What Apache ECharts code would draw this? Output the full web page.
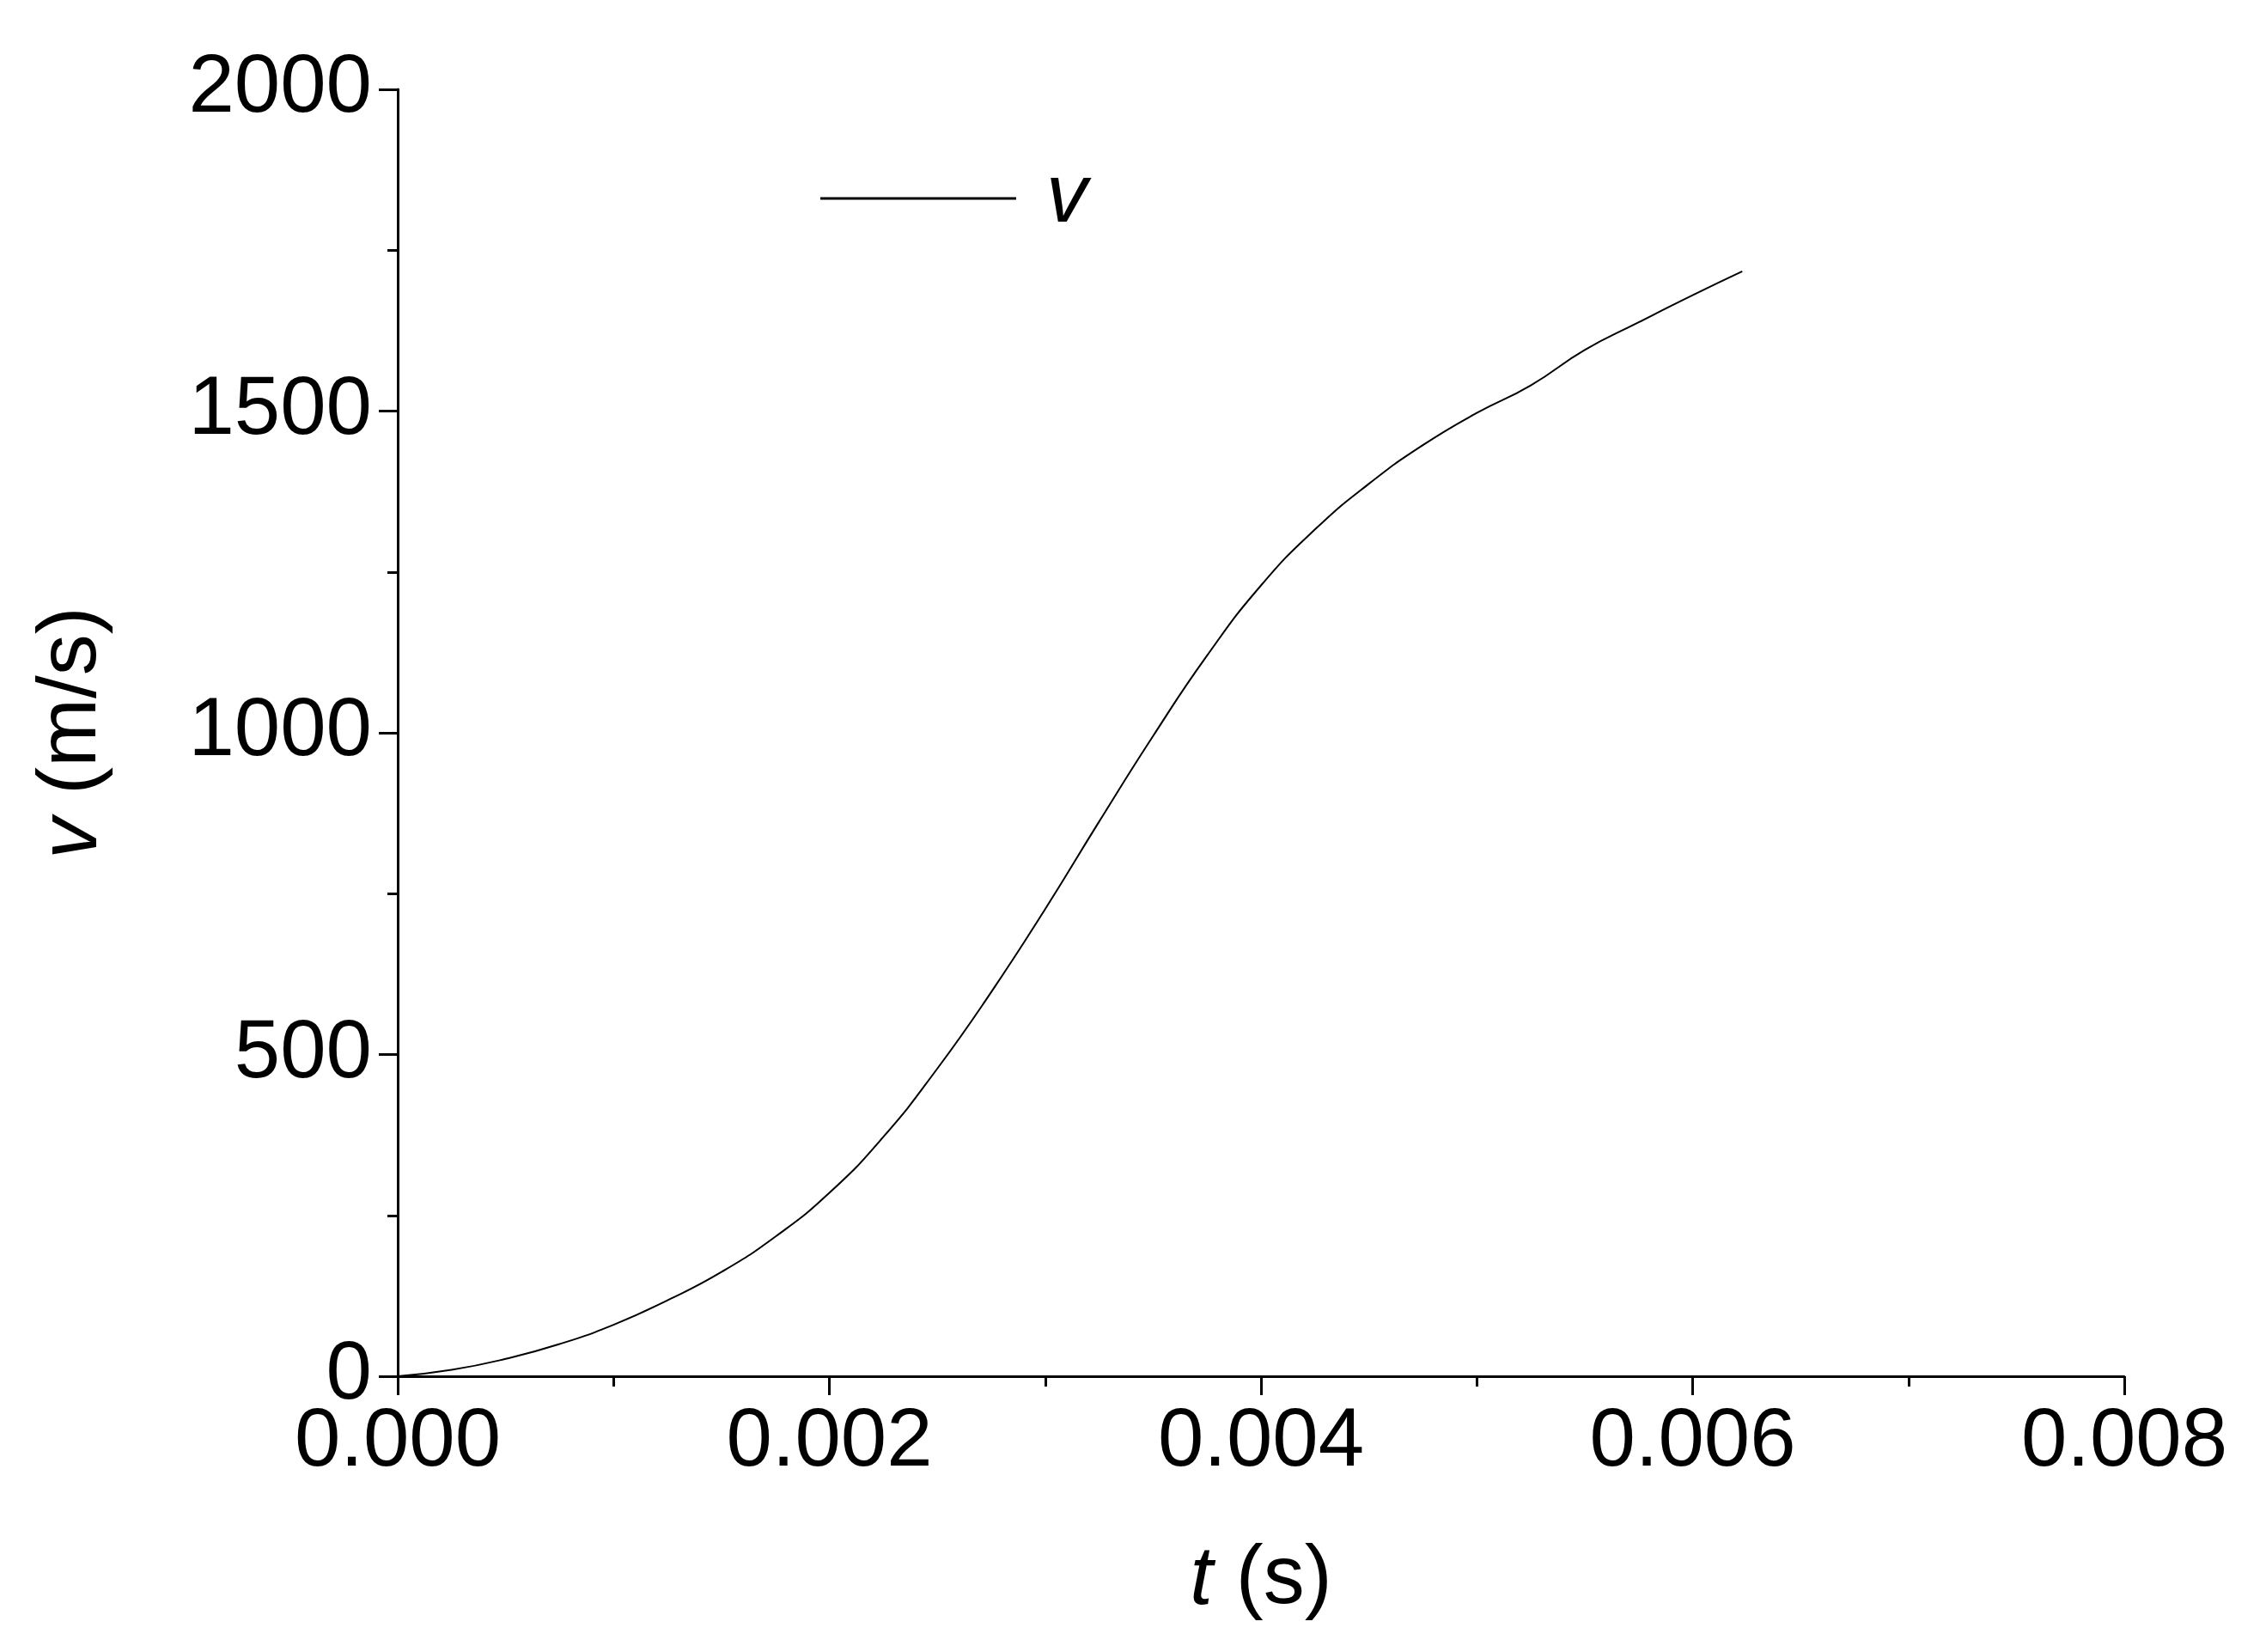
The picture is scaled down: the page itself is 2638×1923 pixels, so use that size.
<!DOCTYPE html>
<html><head><meta charset="utf-8">
<script src="https://cdn.jsdelivr.net/npm/echarts@6/dist/echarts.min.js"></script>
<style>html,body{margin:0;padding:0;background:#fff}#c{width:2638px;height:1923px}</style>
</head><body><div id="c"></div>
<script>
const tValues = [0, 0.00025, 0.0005, 0.00075, 0.001, 0.00125, 0.0015, 0.00175, 0.002, 0.00225, 0.0025, 0.00275, 0.003, 0.00325, 0.0035, 0.00375, 0.004, 0.00425, 0.0045, 0.00475, 0.005, 0.00525, 0.0055, 0.00575, 0.006, 0.00623];
const vValues = [0, 10, 27, 50, 80, 118, 162, 217, 285, 372, 478, 597, 726, 862, 995, 1120, 1229, 1316, 1387, 1447, 1497, 1540, 1595, 1638, 1680, 1717];
const xTicks = ['0.000','0.002','0.004','0.006','0.008'];
const yTicks = [0, 500, 1000, 1500, 2000];
const seriesName = 'v';

const font = 'Liberation Sans, Arial, sans-serif';
const fs = 96;
const chart = echarts.init(document.getElementById('c'));
chart.setOption({
  backgroundColor: '#fff',
  animation: false,
  grid: {left: 463, right: 165, top: 104, bottom: 321},
  legend: {
    data: [seriesName], left: 950, top: 178, itemWidth: 228, itemHeight: 3, itemGap: 20,
    icon: 'rect',
    textStyle: {fontSize: fs, fontStyle: 'italic', fontFamily: font, color: '#000', padding: [0,0,0,30]}
  },
  xAxis: {
    type: 'value', min: 0, max: 0.008, interval: 0.002,
    minorTick: {show: true, splitNumber: 2, length: 12, lineStyle: {color: '#000', width: 3}},
    axisLine: {lineStyle: {color: '#000', width: 3}},
    axisTick: {inside: false, length: 22, lineStyle: {color: '#000', width: 3}},
    splitLine: {show: false},
    axisLabel: {fontSize: fs, fontFamily: font, color: '#000', margin: 30,
      formatter: v => xTicks[Math.round(v / 0.002)]},
    name: '{i|t} (s)', nameLocation: 'middle', nameGap: 190,
    nameTextStyle: {fontSize: fs, fontFamily: font, color: '#000',
      rich: {i: {fontSize: fs, fontStyle: 'italic', fontFamily: font, color: '#000'}}}
  },
  yAxis: {
    type: 'value', min: 0, max: 2000, interval: 500,
    minorTick: {show: true, splitNumber: 2, length: 12, lineStyle: {color: '#000', width: 3}},
    axisLine: {show: true, lineStyle: {color: '#000', width: 3}},
    axisTick: {show: true, inside: false, length: 22, lineStyle: {color: '#000', width: 3}},
    splitLine: {show: false},
    axisLabel: {fontSize: fs, fontFamily: font, color: '#000', margin: 30,
      formatter: v => yTicks.includes(v) ? String(v) : ''},
    name: '{i|v} (m/s)', nameLocation: 'middle', nameGap: 330,
    nameTextStyle: {fontSize: fs, fontFamily: font, color: '#000',
      rich: {i: {fontSize: fs, fontStyle: 'italic', fontFamily: font, color: '#000'}}}
  },
  series: [{
    name: seriesName, type: 'line', smooth: 0.5, showSymbol: false,
    lineStyle: {color: '#000', width: 2}, itemStyle: {color: '#000'},
    data: tValues.map((t, i) => [t, vValues[i]])
  }]
});
</script></body></html>
